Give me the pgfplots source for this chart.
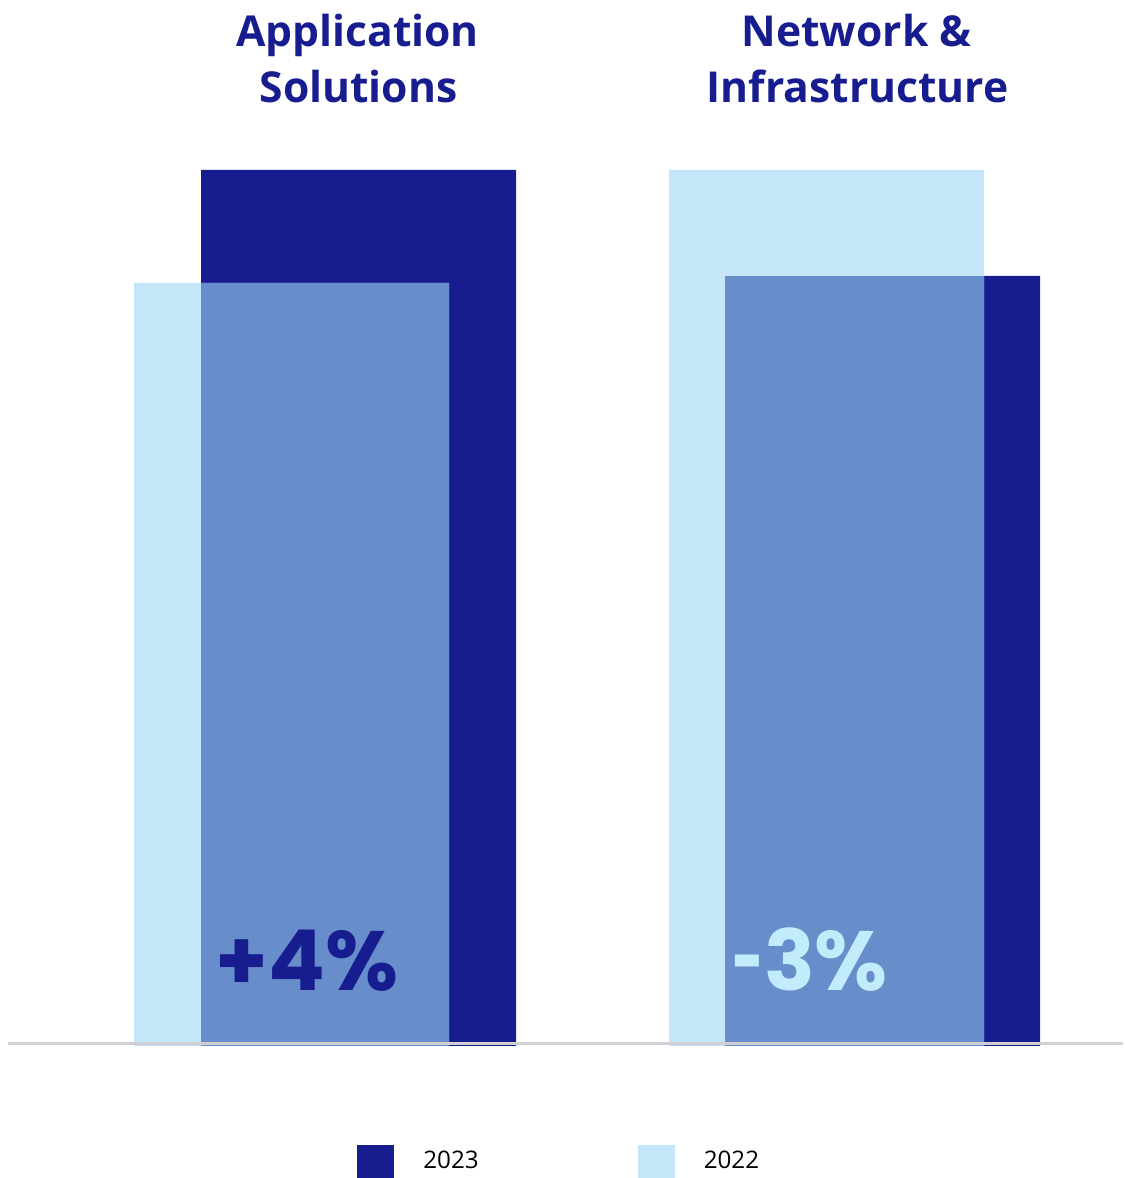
\documentclass[border=0pt]{standalone}
\usepackage{pgfplots}
\pgfplotsset{compat=1.18}
\usepackage{graphicx}
\usepackage{fontspec}
\setmainfont{Open Sans}
\newfontfamily\figfont{Poppins}

\definecolor{navy}{HTML}{171C8F}
\definecolor{sky}{HTML}{C5E6F8}
\definecolor{overlap}{HTML}{688DCB}
\definecolor{palecyan}{HTML}{C2ECFC}
\definecolor{axisgray}{HTML}{CFCFD4}

\pgfplotsset{onebar/.style={ybar, bar shift=0pt, draw=none}}

\begin{document}
\begin{tikzpicture}
\begin{axis}[
    scale only axis, width=561.5pt, height=589pt,
    xmin=0, xmax=1123, ymin=-132, ymax=1046,
    hide axis, clip=false,
    legend columns=2,
    legend image code/.code={\path[fill,#1] (0pt,-8.25pt) rectangle (18.5pt,8.25pt);},
    legend style={draw=none, fill=none, at={(axis cs:357,-132)}, anchor=south west,
        inner sep=0pt, font=\fontsize{12.1}{14}\selectfont,
        nodes={inner sep=0pt},
        /tikz/every odd column/.append style={column sep=14.5pt},
        /tikz/every even column/.append style={column sep=79.5pt}},
]
% 2023
\addplot[onebar, bar width=315, fill=navy] coordinates {(358.5,876) (882.5,770)};
\addlegendentry{2023}
% 2022
\addplot[onebar, bar width=315, fill=sky] coordinates {(291.5,763) (826.5,876)};
\addlegendentry{2022}
% overlapping part of the two bars
\addplot[onebar, bar width=248, fill=overlap, forget plot] coordinates {(325,763)};
\addplot[onebar, bar width=259, fill=overlap, forget plot] coordinates {(854.5,770)};
% base line
\addplot[axisgray, line width=1.5pt, forget plot] coordinates {(8,2) (1123,2)};

\path (axis cs:0,-132) rectangle (axis cs:1123,1046);

\node[font=\fontsize{21.3}{26}\selectfont\bfseries, text=navy, anchor=base] at (axis cs:357.5,999) {Application};
\node[font=\fontsize{21.3}{26}\selectfont\bfseries, text=navy, anchor=base] at (axis cs:358.5,943) {Solutions};
\node[font=\fontsize{21.3}{26}\selectfont\bfseries, text=navy, anchor=base] at (axis cs:856.5,999) {Network \&};
\node[font=\fontsize{21.3}{26}\selectfont\bfseries, text=navy, anchor=base] at (axis cs:857.5,943) {Infrastructure};

\node[font=\figfont\fontsize{42}{48}\selectfont\bfseries, text=navy, anchor=base west, inner sep=0pt] at (axis cs:215,55) {+4\%};
\node[font=\figfont\fontsize{42}{48}\selectfont\bfseries, text=palecyan, anchor=base west, inner sep=0pt] at (axis cs:732,55) {\scalebox{0.65}[1]{-}3\%};
\end{axis}
\end{tikzpicture}
\end{document}
